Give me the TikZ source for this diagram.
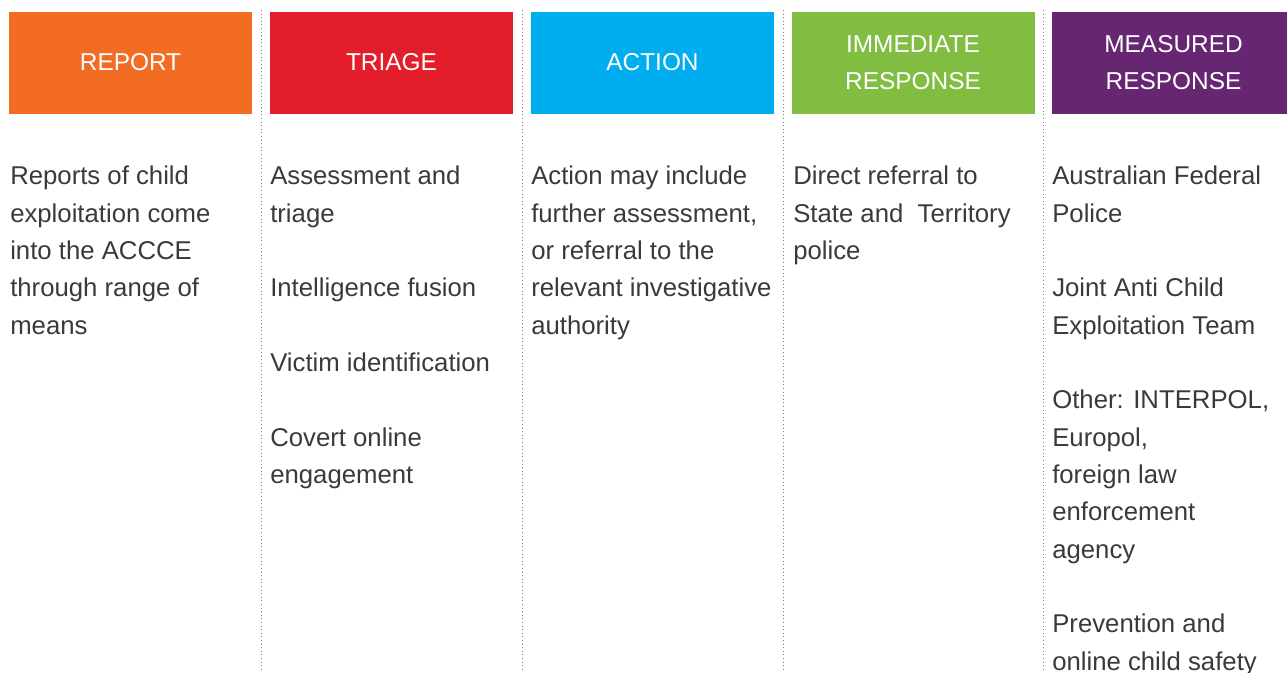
\documentclass[tikz,border=0pt]{standalone}
\usepackage{fontspec}
\setmainfont{Liberation Sans}
\definecolor{reportc}{HTML}{F26C23}
\definecolor{triagec}{HTML}{E31E2A}
\definecolor{actionc}{HTML}{00AEEF}
\definecolor{immedc}{HTML}{80BD41}
\definecolor{measc}{HTML}{662671}
\definecolor{bodyc}{HTML}{3A3A3A}
\tikzset{
  head/.style={fill=#1,text=white,minimum width=182.25pt,minimum height=76.5pt,
    inner sep=0pt,align=center,font=\fontsize{18.3}{27.75}\selectfont},
  body/.style={anchor=north west,inner sep=0pt,align=left,text=bodyc,
    font=\fontsize{19.3}{28}\selectfont},
  sepline/.style={draw=gray,dotted,line width=0.7pt}
}
\begin{document}
\begin{tikzpicture}[x=0.75pt,y=-0.75pt]
\useasboundingbox (0,0) rectangle (1287,672);
%HEADER
\node[head=reportc] (report) at (130.5,62.5) {REPORT};
\node[head=triagec] (triage) at (391.5,62.5) {TRIAGE};
\node[head=actionc] (action) at (652.5,62.5) {ACTION};
\node[head=immedc] (immed) at (913,62.5) {IMMEDIATE\\RESPONSE};
\node[head=measc] (meas) at (1173.5,62.5) {MEASURED\\RESPONSE};

%BODY
\node[body] (reporttxt) at (10,166) {Reports of child\\exploitation come\\into the ACCCE\\through range of\\means};
\node[body] (triagetxt) at (270,166) {Assessment and\\triage\\[28pt]Intelligence fusion\\[28pt]Victim identification\\[28pt]Covert online\\engagement};
\node[body] (actiontxt) at (531,166) {Action may include\\further assessment,\\or referral to the\\relevant investigative\\authority};
\node[body] (immedtxt) at (793,166) {Direct referral to\\State and~~Territory\\police};
\node[body] (meastxt) at (1052,166) {Australian Federal\\Police\\[28pt]Joint Anti Child\\Exploitation Team\\[28pt]Other: INTERPOL,\\Europol,\\foreign law\\enforcement\\agency\\[28pt]Prevention and\\online child safety};

%LINES
\foreach \x in {261,522,783,1043}
  \draw[sepline] (\x,10) -- (\x,672);
\end{tikzpicture}
\end{document}
